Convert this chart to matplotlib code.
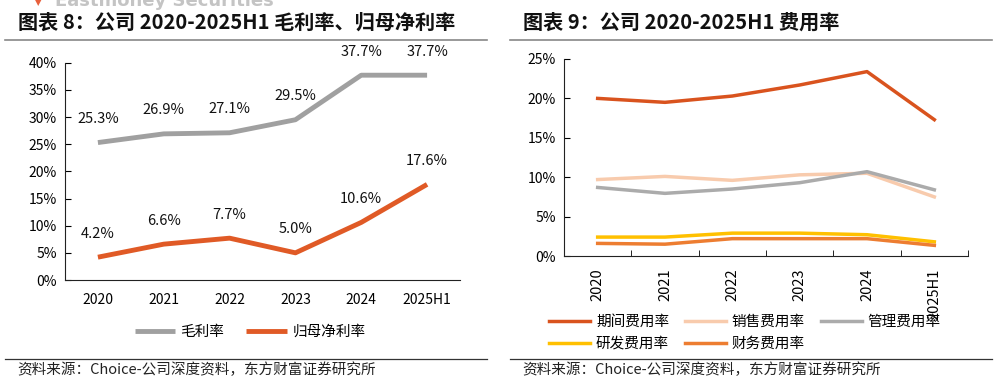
import numpy as np
import matplotlib.pyplot as plt

plt.rcParams['font.family'] = ['Noto Sans CJK SC', 'DejaVu Sans']

# Datos
years = ['2020', '2021', '2022', '2023', '2024', '2025H1']
gross_margin = [25.3, 26.9, 27.1, 29.5, 37.7, 37.7]
net_margin = [4.2, 6.6, 7.7, 5.0, 10.6, 17.6]

period_exp = [20.0, 19.5, 20.3, 21.7, 23.4, 17.3]
sales_exp = [9.7, 10.1, 9.6, 10.3, 10.5, 7.5]
admin_exp = [8.7, 7.95, 8.5, 9.3, 10.7, 8.4]
rd_exp = [2.4, 2.4, 2.9, 2.9, 2.7, 1.8]
fin_exp = [1.6, 1.5, 2.2, 2.2, 2.2, 1.35]

W, H = 997, 383
fig = plt.figure(figsize=(W / 100, H / 100), dpi=100)


def fx(px):
    return px / W


def fy(py):
    return 1 - py / H


# Marca de agua superior recortada
fig.text(fx(55), fy(1), 'Eastmoney Securities', fontsize=13, fontweight='bold',
         color='#C4C4C4', ha='left', va='center', family='DejaVu Sans')
fig.text(fx(38), fy(3), '▼', fontsize=6, color='#E8603C', ha='center', va='center',
         family='DejaVu Sans')

# Titulos y lineas separadoras
fig.text(fx(18), fy(22), '图表 8：公司 2020-2025H1 毛利率、归母净利率', fontsize=14.5,
         fontweight='bold', ha='left', va='center', color='#111111')
fig.text(fx(523), fy(22), '图表 9：公司 2020-2025H1 费用率', fontsize=14.5,
         fontweight='bold', ha='left', va='center', color='#111111')
for x0, x1 in [(5, 487), (510, 992)]:
    fig.add_artist(plt.Line2D([fx(x0), fx(x1)], [fy(40), fy(40)], color='#888888', lw=1.2))
    fig.add_artist(plt.Line2D([fx(x0), fx(x1)], [fy(359), fy(359)], color='#333333', lw=0.9))

src = '资料来源：Choice-公司深度资料，东方财富证券研究所'
fig.text(fx(17), fy(370), src, fontsize=10.5, ha='left', va='center', color='#222222')
fig.text(fx(522), fy(370), src, fontsize=10.5, ha='left', va='center', color='#222222')

# Grafico izquierdo
ax1 = fig.add_axes([fx(65), fy(280), fx(460 - 65), (280 - 62.7) / H])
x = np.arange(len(years))
l1, = ax1.plot(x, gross_margin, color='#A0A0A0', lw=3.5, solid_capstyle='butt')
l2, = ax1.plot(x, net_margin, color='#E05A26', lw=3.5, solid_capstyle='butt')
for xi, v in zip(x, gross_margin):
    ax1.annotate(f'{v:.1f}%', (xi, v), xytext=(0, 17), textcoords='offset points',
                 ha='center', va='center', fontsize=10.5, color='#111111')
for xi, v in zip(x, net_margin):
    ax1.annotate(f'{v:.1f}%', (xi, v), xytext=(0, 17), textcoords='offset points',
                 ha='center', va='center', fontsize=10.5, color='#111111')
ax1.set_xlim(-0.5, len(years) - 0.5)
ax1.set_ylim(0, 40)
ax1.set_yticks(range(0, 41, 5))
ax1.set_yticklabels([f'{t}%' for t in range(0, 41, 5)])
ax1.set_xticks(x)
ax1.set_xticklabels(years)
ax1.tick_params(axis='y', direction='in', length=4, labelsize=10, pad=6)
ax1.tick_params(axis='x', length=0, labelsize=10, pad=9)
for s in ['top', 'right']:
    ax1.spines[s].set_visible(False)
ax1.spines['left'].set_color('#222222')
ax1.spines['bottom'].set_color('#222222')
fig.legend([l1, l2], ['毛利率', '归母净利率'], loc='center', bbox_to_anchor=(fx(250), fy(332)),
           ncol=2, frameon=False, fontsize=10.5, handlelength=2.8, handletextpad=0.35,
           columnspacing=1.5)

# Grafico derecho
ax2 = fig.add_axes([fx(564), fy(256), fx(968 - 564), (256 - 59) / H])
series = [
    (period_exp, '期间费用率', '#D9531E'),
    (sales_exp, '销售费用率', '#F8CBAD'),
    (admin_exp, '管理费用率', '#ABABAB'),
    (rd_exp, '研发费用率', '#FFC000'),
    (fin_exp, '财务费用率', '#ED7D31'),
]
handles = []
for vals, name, col in series:
    h, = ax2.plot(x, vals, color=col, lw=2.5, label=name)
    handles.append(h)
ax2.set_xlim(-0.5, len(years) - 0.5)
ax2.set_ylim(0, 25)
ax2.set_yticks(range(0, 26, 5))
ax2.set_yticklabels([f'{t}%' for t in range(0, 26, 5)])
ax2.set_xticks(x)
ax2.set_xticklabels(years, rotation=90)
ax2.set_xticks(np.arange(-0.5, len(years)), minor=True)
ax2.tick_params(axis='x', which='major', length=0, labelsize=10.5, pad=9)
ax2.tick_params(axis='x', which='minor', direction='in', length=4)
ax2.tick_params(axis='y', direction='in', length=4, labelsize=10, pad=6)
for s in ['top', 'right']:
    ax2.spines[s].set_visible(False)
ax2.spines['left'].set_color('#222222')
ax2.spines['bottom'].set_color('#222222')
# orden por filas: matplotlib llena por columnas
order = [0, 3, 1, 4, 2]
fig.legend([handles[i] for i in order], [series[i][1] for i in order], loc='center',
           bbox_to_anchor=(fx(745), fy(333)), ncol=3, frameon=False, fontsize=10.5,
           handlelength=2.8, handletextpad=0.4, columnspacing=1.1, labelspacing=0.55)

fig.savefig('out.png', dpi=100)
